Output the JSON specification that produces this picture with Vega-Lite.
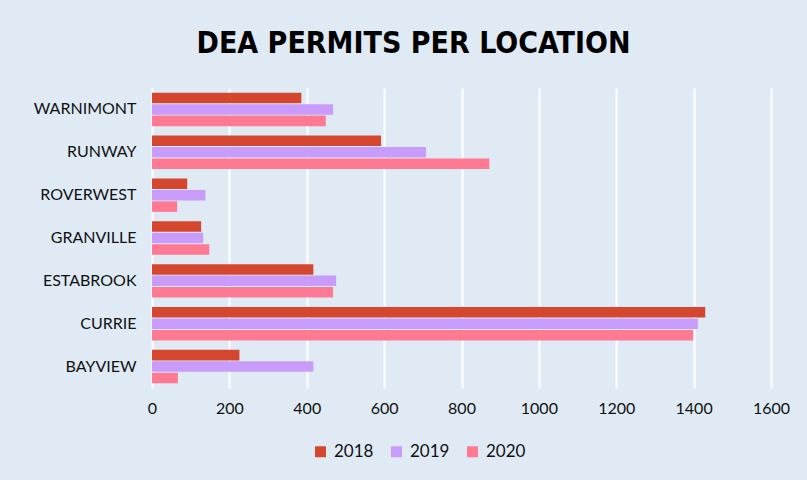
{
  "$schema": "https://vega.github.io/schema/vega-lite/v6.json",
  "width": 619,
  "height": 300,
  "autosize": {"type": "none"},
  "padding": {"left": 152, "top": 88, "right": 36, "bottom": 92},
  "background": "#dfeaf4",
  "title": {
    "text": "DEA PERMITS PER LOCATION",
    "anchor": "middle",
    "frame": "group",
    "dx": -48,
    "offset": 29,
    "font": "DejaVu Sans Condensed",
    "fontSize": 30,
    "fontWeight": "bold",
    "color": "#000000"
  },
  "data": {
    "values": [
      {"location": "WARNIMONT", "year": "2018", "permits": 386},
      {"location": "WARNIMONT", "year": "2019", "permits": 468},
      {"location": "WARNIMONT", "year": "2020", "permits": 449},
      {"location": "RUNWAY", "year": "2018", "permits": 592},
      {"location": "RUNWAY", "year": "2019", "permits": 708},
      {"location": "RUNWAY", "year": "2020", "permits": 872},
      {"location": "ROVERWEST", "year": "2018", "permits": 91},
      {"location": "ROVERWEST", "year": "2019", "permits": 138},
      {"location": "ROVERWEST", "year": "2020", "permits": 65},
      {"location": "GRANVILLE", "year": "2018", "permits": 127},
      {"location": "GRANVILLE", "year": "2019", "permits": 132},
      {"location": "GRANVILLE", "year": "2020", "permits": 148},
      {"location": "ESTABROOK", "year": "2018", "permits": 417},
      {"location": "ESTABROOK", "year": "2019", "permits": 476},
      {"location": "ESTABROOK", "year": "2020", "permits": 468},
      {"location": "CURRIE", "year": "2018", "permits": 1430},
      {"location": "CURRIE", "year": "2019", "permits": 1411},
      {"location": "CURRIE", "year": "2020", "permits": 1399},
      {"location": "BAYVIEW", "year": "2018", "permits": 226},
      {"location": "BAYVIEW", "year": "2019", "permits": 417},
      {"location": "BAYVIEW", "year": "2020", "permits": 67}
    ]
  },
  "mark": {"type": "bar", "cornerRadius": 0},
  "encoding": {
    "y": {
      "field": "location",
      "type": "nominal",
      "sort": ["WARNIMONT", "RUNWAY", "ROVERWEST", "GRANVILLE", "ESTABROOK", "CURRIE", "BAYVIEW"],
      "scale": {"paddingInner": 0.22, "paddingOuter": 0.11},
      "axis": {
        "title": null,
        "domain": false,
        "ticks": false,
        "grid": false,
        "labelFont": "Lato",
        "labelFontSize": 16,
        "labelColor": "#111111",
        "labelPadding": 16
      }
    },
    "yOffset": {
      "field": "year",
      "type": "nominal",
      "scale": {"paddingInner": 0.08}
    },
    "x": {
      "field": "permits",
      "type": "quantitative",
      "scale": {"domain": [0, 1600], "nice": false},
      "axis": {
        "title": null,
        "values": [0, 200, 400, 600, 800, 1000, 1200, 1400, 1600],
        "format": "d",
        "domain": false,
        "ticks": false,
        "grid": true,
        "gridColor": "#ffffff",
        "gridWidth": 2,
        "labelFont": "Lato",
        "labelFontSize": 16,
        "labelColor": "#111111",
        "labelPadding": 12,
        "labelFlush": false
      }
    },
    "color": {
      "field": "year",
      "type": "nominal",
      "scale": {"domain": ["2018", "2019", "2020"], "range": ["#d4472e", "#c99bfb", "#fd7a92"]},
      "legend": {
        "title": null,
        "orient": "none",
        "direction": "horizontal",
        "legendX": 160,
        "legendY": 355,
        "symbolType": "square",
        "symbolSize": 120,
        "symbolStrokeWidth": 0,
        "labelFont": "Lato",
        "labelFontSize": 17,
        "labelColor": "#111111",
        "columnPadding": 14,
        "labelOffset": 5
      }
    }
  },
  "config": {
    "view": {"stroke": null}
  }
}
